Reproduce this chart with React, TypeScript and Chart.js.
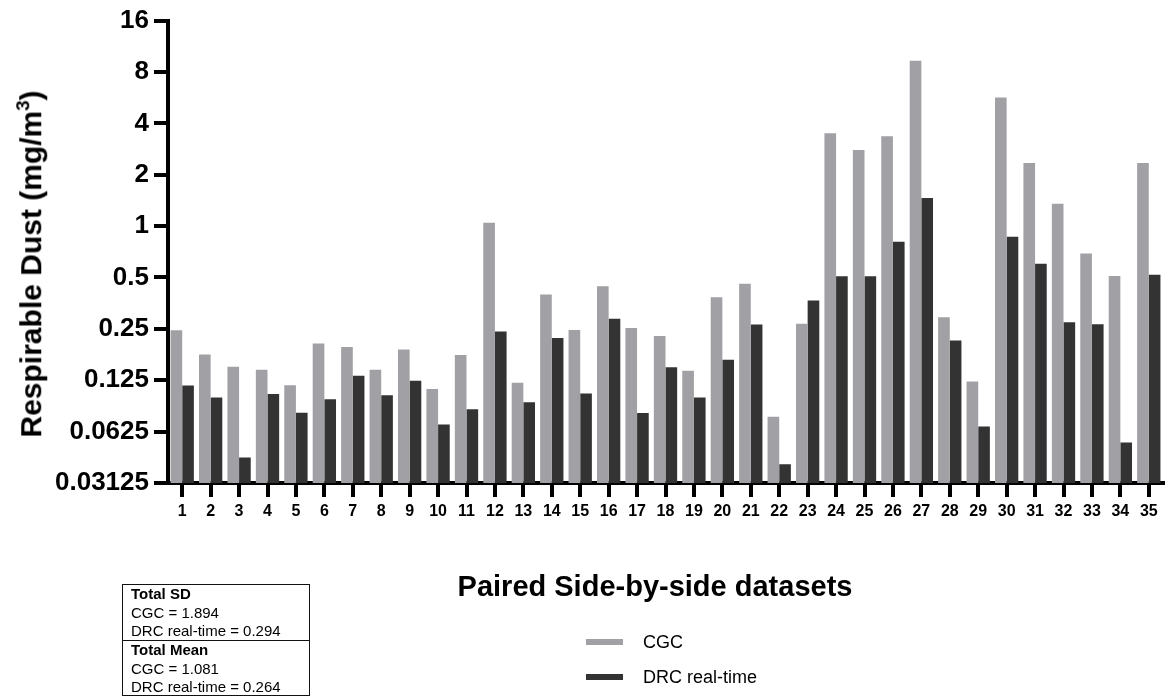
import { useEffect, useRef } from "react";
import { Chart, registerables } from "chart.js";

Chart.register(...registerables);

const FONT = "'Liberation Sans', Arial, Helvetica, sans-serif";

const categories = [
  "1", "2", "3", "4", "5", "6", "7", "8", "9", "10",
  "11", "12", "13", "14", "15", "16", "17", "18", "19", "20",
  "21", "22", "23", "24", "25", "26", "27", "28", "29", "30",
  "31", "32", "33", "34", "35",
];

const cgcValues = [
  0.245, 0.177, 0.15, 0.144, 0.117, 0.205, 0.196, 0.144, 0.189, 0.111,
  0.176, 1.046, 0.121, 0.398, 0.246, 0.444, 0.253, 0.227, 0.142, 0.383,
  0.459, 0.0765, 0.268, 3.5, 2.79, 3.36, 9.32, 0.292, 0.123, 5.67,
  2.34, 1.35, 0.69, 0.511, 2.34,
];

const drcValues = [
  0.1165, 0.0989, 0.0441, 0.1037, 0.0807, 0.0967, 0.133, 0.102, 0.124, 0.0688,
  0.0844, 0.241, 0.0929, 0.221, 0.1046, 0.287, 0.0803, 0.149, 0.0989, 0.165,
  0.265, 0.0402, 0.366, 0.509, 0.509, 0.811, 1.463, 0.214, 0.0669, 0.867,
  0.601, 0.273, 0.266, 0.054, 0.518,
];

const seriesNames = ["CGC", "DRC real-time"];
const seriesColors = ["#a1a1a5", "#333333"];

const yTickValues = [0.03125, 0.0625, 0.125, 0.25, 0.5, 1, 2, 4, 8, 16];
const yTickLabels = ["0.03125", "0.0625", "0.125", "0.25", "0.5", "1", "2", "4", "8", "16"];

const sdRows = ["CGC = 1.894", "DRC real-time = 0.294"];
const meanRows = ["CGC = 1.081", "DRC real-time = 0.264"];

const W = 1167;
const H = 697;

export default function App() {
  const canvasRef = useRef<HTMLCanvasElement | null>(null);

  useEffect(() => {
    const canvas = canvasRef.current;
    if (!canvas) return;

    const axisGrid = {
      display: true,
      drawOnChartArea: false,
      drawTicks: true,
      tickLength: 14,
      tickWidth: 4,
      tickColor: "#000",
      lineWidth: 4,
      color: "#000",
    };

    const chart = new Chart(canvas, {
      type: "bar",
      data: {
        labels: categories,
        datasets: [
          {
            label: seriesNames[0],
            data: cgcValues,
            backgroundColor: seriesColors[0],
            borderWidth: 0,
            categoryPercentage: 0.82,
            barPercentage: 1,
          },
          {
            label: seriesNames[1],
            data: drcValues,
            backgroundColor: seriesColors[1],
            borderWidth: 0,
            categoryPercentage: 0.82,
            barPercentage: 1,
          },
        ],
      },
      options: {
        responsive: false,
        animation: false,
        devicePixelRatio: 1,
        layout: { padding: { left: 0, right: 4, top: 19, bottom: 174 } },
        plugins: {
          legend: { display: false },
          tooltip: { enabled: false },
        },
        scales: {
          x: {
            type: "category",
            offset: true,
            grid: { ...axisGrid, offset: false },
            border: { display: true, width: 4, color: "#000" },
            ticks: {
              color: "#000",
              font: { family: FONT, size: 16, weight: "bold" },
              padding: 5,
              maxRotation: 0,
              autoSkip: false,
            },
            afterFit: (scale: any) => {
              scale.height = 40;
            },
          },
          y: {
            type: "logarithmic",
            min: yTickValues[0],
            max: yTickValues[yTickValues.length - 1],
            afterBuildTicks: (scale: any) => {
              scale.ticks = yTickValues.map((v) => ({ value: v }));
            },
            grid: { ...axisGrid },
            border: { display: true, width: 4, color: "#000" },
            ticks: {
              color: "#000",
              font: { family: FONT, size: 26, weight: "bold" },
              padding: 5,
              autoSkip: false,
              callback: (_v: any, i: number) => yTickLabels[i],
            },
            afterFit: (scale: any) => {
              scale.width = 168;
            },
          },
        },
      },
    });

    return () => chart.destroy();
  }, []);

  return (
    <div
      style={{
        position: "absolute",
        left: 0,
        top: 0,
        width: W,
        height: H,
        overflow: "hidden",
        background: "#fff",
        fontFamily: FONT,
        color: "#000",
      }}
    >
      <canvas ref={canvasRef} width={W} height={H} style={{ position: "absolute", left: 0, top: 0 }} />

      {/* y-axis title */}
      <div
        style={{
          position: "absolute",
          left: 30,
          top: 264,
          transform: "translate(-50%, -50%) rotate(-90deg)",
          fontWeight: "bold",
          fontSize: 30,
          lineHeight: 1,
          whiteSpace: "nowrap",
        }}
      >
        Respirable Dust (mg/m
        <span style={{ fontSize: "0.62em", verticalAlign: "0.62em" }}>3</span>)
      </div>

      {/* x-axis title */}
      <div
        style={{
          position: "absolute",
          left: 655,
          top: 586,
          transform: "translate(-50%, -50%)",
          fontWeight: "bold",
          fontSize: 29,
          lineHeight: 1,
          whiteSpace: "nowrap",
        }}
      >
        Paired Side-by-side datasets
      </div>

      {/* legend */}
      {seriesNames.map((name, i) => (
        <div key={name}>
          <div
            style={{
              position: "absolute",
              left: 586,
              top: 642 + i * 35 - 3,
              width: 37,
              height: 6,
              background: seriesColors[i],
            }}
          />
          <div
            style={{
              position: "absolute",
              left: 643,
              top: 642 + i * 35,
              transform: "translateY(-50%)",
              fontSize: 18,
              lineHeight: 1,
              whiteSpace: "nowrap",
            }}
          >
            {name}
          </div>
        </div>
      ))}

      {/* summary statistics box */}
      <div
        style={{
          position: "absolute",
          left: 122,
          top: 584,
          width: 188,
          height: 112,
          boxSizing: "border-box",
          border: "1.5px solid #111",
          fontSize: 15,
          lineHeight: "18.5px",
        }}
      >
        <div style={{ height: 55, borderBottom: "1px solid #111", paddingLeft: 8 }}>
          <div style={{ fontWeight: "bold" }}>Total SD</div>
          {sdRows.map((r) => (
            <div key={r}>{r}</div>
          ))}
        </div>
        <div style={{ paddingLeft: 8 }}>
          <div style={{ fontWeight: "bold" }}>Total Mean</div>
          {meanRows.map((r) => (
            <div key={r}>{r}</div>
          ))}
        </div>
      </div>
    </div>
  );
}
